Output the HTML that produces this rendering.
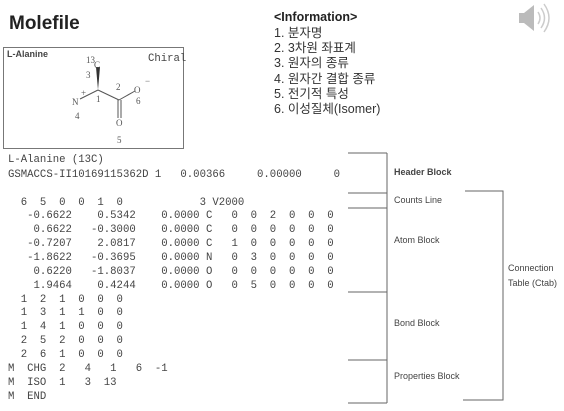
<!DOCTYPE html>
<html><head><meta charset="utf-8"><style>
html,body{margin:0;padding:0;background:#fff;width:564px;height:411px;overflow:hidden}
svg{display:block}
.m{font-family:"Liberation Mono",monospace;font-size:10.65px;fill:#444}
.s{font-family:"Liberation Serif",serif;font-size:9px;fill:#555}
.l{font-family:"Liberation Sans",sans-serif;font-size:9px;fill:#444}
.k{font-family:"Liberation Sans","Noto Sans CJK KR",sans-serif;font-size:12.5px;fill:#333}
</style></head><body>
<svg width="564" height="411" viewBox="0 0 564 411" xmlns="http://www.w3.org/2000/svg">
<text x="9" y="29" font-family="Liberation Sans,sans-serif" font-weight="bold" font-size="19" fill="#222">Molefile</text>
<rect x="3.5" y="47.5" width="180" height="101" fill="none" stroke="#777" stroke-width="1"/>
<text x="7" y="57" class="l" font-weight="bold" font-size="8.5">L-Alanine</text>
<text x="148" y="61" class="m" font-size="8.6">Chiral</text>
<g stroke="#555" stroke-width="1" fill="none">
<line x1="98" y1="90" x2="80" y2="99"/>
<line x1="98" y1="90" x2="119" y2="100"/>
<line x1="119" y1="100" x2="135" y2="91"/>
<line x1="118" y1="100" x2="118" y2="118"/>
<line x1="121" y1="100" x2="121" y2="118"/>
</g>
<polygon points="96,67 100,67 98,90" fill="#333"/>
<text x="86" y="63" class="s" font-size="6">13</text>
<text x="94" y="68" class="s">C</text>
<text x="86" y="78" class="s">3</text>
<text x="96" y="102" class="s">1</text>
<text x="116" y="90" class="s">2</text>
<text x="134" y="93" class="s">O</text>
<text x="145" y="84" class="s">−</text>
<text x="136" y="104" class="s">6</text>
<text x="72" y="105" class="s">N</text>
<text x="81" y="96" class="s" font-size="5">+</text>
<text x="75" y="119" class="s">4</text>
<text x="116" y="126" class="s">O</text>
<text x="117" y="143" class="s">5</text>

<text x="274" y="21" font-family="Liberation Sans,sans-serif" font-weight="bold" font-size="12.5" fill="#222">&lt;Information&gt;</text>
<text x="274" y="37" class="k">1. 분자명</text>
<text x="274" y="52" class="k">2. 3차원 좌표계</text>
<text x="274" y="67" class="k">3. 원자의 종류</text>
<text x="274" y="83" class="k">4. 원자간 결합 종류</text>
<text x="274" y="98" class="k">5. 전기적 특성</text>
<text x="274" y="113" class="k">6. 이성질체(Isomer)</text>

<g fill="#bbb"><rect x="519" y="13" width="6" height="10"/><polygon points="524,13 534,5 534,31 524,23"/></g>
<g stroke="#ccc" stroke-width="1.5" fill="none"><path d="M538,12 q4,6 0,12"/><path d="M541,8 q7,10 0,20"/><path d="M544,4 q10,14 0,28"/></g>

<g class="m">
<text x="8" y="162" xml:space="preserve">L-Alanine (13C)</text>
<text x="8" y="177" xml:space="preserve">GSMACCS-II10169115362D 1   0.00366     0.00000     0</text>
<text x="8" y="205" xml:space="preserve">  6  5  0  0  1  0            3 V2000</text>
<text x="8" y="218" xml:space="preserve">   -0.6622    0.5342    0.0000 C   0  0  2  0  0  0</text>
<text x="8" y="232" xml:space="preserve">    0.6622   -0.3000    0.0000 C   0  0  0  0  0  0</text>
<text x="8" y="246" xml:space="preserve">   -0.7207    2.0817    0.0000 C   1  0  0  0  0  0</text>
<text x="8" y="260" xml:space="preserve">   -1.8622   -0.3695    0.0000 N   0  3  0  0  0  0</text>
<text x="8" y="274" xml:space="preserve">    0.6220   -1.8037    0.0000 O   0  0  0  0  0  0</text>
<text x="8" y="288" xml:space="preserve">    1.9464    0.4244    0.0000 O   0  5  0  0  0  0</text>
<text x="8" y="302" xml:space="preserve">  1  2  1  0  0  0</text>
<text x="8" y="315" xml:space="preserve">  1  3  1  1  0  0</text>
<text x="8" y="329" xml:space="preserve">  1  4  1  0  0  0</text>
<text x="8" y="343" xml:space="preserve">  2  5  2  0  0  0</text>
<text x="8" y="357" xml:space="preserve">  2  6  1  0  0  0</text>
<text x="8" y="371" xml:space="preserve">M  CHG  2   4   1   6  -1</text>
<text x="8" y="385" xml:space="preserve">M  ISO  1   3  13</text>
<text x="8" y="399" xml:space="preserve">M  END</text>
</g>

<g stroke="#666" stroke-width="1" fill="none">
<line x1="387" y1="153" x2="387" y2="403"/>
<line x1="348" y1="153" x2="387" y2="153"/>
<line x1="348" y1="193" x2="387" y2="193"/>
<line x1="348" y1="208" x2="387" y2="208"/>
<line x1="348" y1="292" x2="387" y2="292"/>
<line x1="348" y1="360" x2="387" y2="360"/>
<line x1="348" y1="403" x2="387" y2="403"/>
<polyline points="465,191 503,191 503,400 463,400"/>
</g>
<text x="394" y="175" class="l" font-weight="bold">Header Block</text>
<text x="394" y="203" class="l">Counts Line</text>
<text x="394" y="243" class="l">Atom Block</text>
<text x="394" y="326" class="l">Bond Block</text>
<text x="394" y="379" class="l">Properties Block</text>
<text x="508" y="271" class="l">Connection</text>
<text x="508" y="286" class="l">Table (Ctab)</text>
</svg>
</body></html>
